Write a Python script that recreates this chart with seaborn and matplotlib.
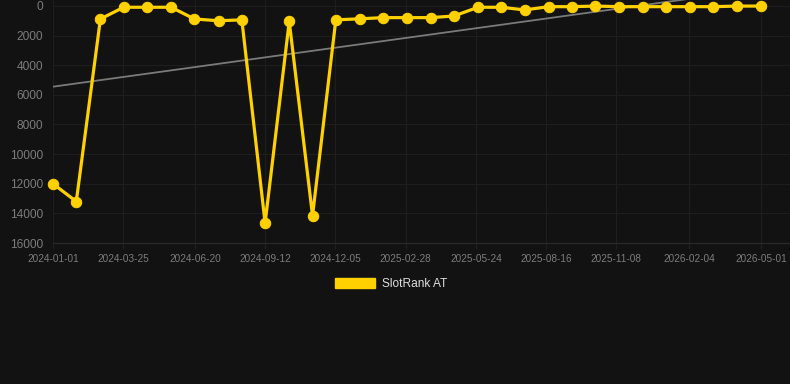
import matplotlib
matplotlib.use('Agg')
import matplotlib.pyplot as plt
import matplotlib.patches as mpatches
import seaborn as sns
import pandas as pd

# ---- data ----
dates = ['2024-01-01', '2024-01-29', '2024-02-27', '2024-03-26', '2024-04-23',
         '2024-05-22', '2024-06-19', '2024-07-18', '2024-08-15', '2024-09-12',
         '2024-10-11', '2024-11-08', '2024-12-06', '2025-01-04', '2025-02-01',
         '2025-03-02', '2025-03-30', '2025-04-27', '2025-05-26', '2025-06-23',
         '2025-07-21', '2025-08-19', '2025-09-16', '2025-10-14', '2025-11-12',
         '2025-12-10', '2026-01-07', '2026-02-05', '2026-03-05', '2026-04-02',
         '2026-05-01']
ranks = [12000, 13200, 880, 90, 90, 90, 880, 1000, 940, 14650,
         1050, 14150, 940, 870, 790, 790, 790, 680, 90, 90,
         270, 50, 50, 10, 50, 50, 50, 50, 50, 10, 10]
trend_dates = ['2024-01-01', '2026-05-01']
trend_values = [5450, -1150]
x_tick_labels = ['2024-01-01', '2024-03-25', '2024-06-20', '2024-09-12', '2024-12-05',
                 '2025-02-28', '2025-05-24', '2025-08-16', '2025-11-08', '2026-02-04',
                 '2026-05-01']
y_ticks = [0, 2000, 4000, 6000, 8000, 10000, 12000, 14000, 16000]
series_label = 'SlotRank AT'

BG = '#121212'
GRID = '#1e1e1e'
GOLD = '#FFD100'
TXT = '#7c7c7c'

sns.set_theme(style='dark', rc={'axes.facecolor': BG, 'figure.facecolor': BG})
plt.rcParams['font.family'] = ['Liberation Sans', 'DejaVu Sans']

df = pd.DataFrame({'date': pd.to_datetime(dates), 'rank': ranks})
tdf = pd.DataFrame({'date': pd.to_datetime(trend_dates), 'rank': trend_values})

fig = plt.figure(figsize=(7.9, 3.84), dpi=100, facecolor=BG)
ax = fig.add_axes([53 / 790, 141 / 384, 737 / 790, 243 / 384])
ax.set_facecolor(BG)

sns.lineplot(data=tdf, x='date', y='rank', ax=ax, color='#7a7a7a', linewidth=1.3,
             legend=False, zorder=2)
sns.lineplot(data=df, x='date', y='rank', ax=ax, color=GOLD, linewidth=2.3,
             marker='o', markersize=7.5, markeredgecolor=GOLD, markerfacecolor=GOLD,
             solid_joinstyle='miter', legend=False, zorder=3, clip_on=False)

ax.set_xlim(pd.Timestamp('2024-01-01'), pd.Timestamp('2024-01-01') + pd.Timedelta(days=886))
ax.set_ylim(16000, -400)

ax.set_xticks(pd.to_datetime(x_tick_labels))
ax.set_xticklabels(x_tick_labels)
ax.set_yticks(y_ticks)
ax.set_yticklabels([str(v) for v in y_ticks])

ax.tick_params(axis='x', colors=GRID, labelcolor=TXT, labelsize=7.2, length=4,
               width=1, pad=4, direction='out', bottom=True)
ax.tick_params(axis='y', labelcolor=TXT, labelsize=8.6, length=0, pad=7, left=False)

ax.grid(True, color=GRID, linewidth=0.8)
ax.set_axisbelow(True)
for s in ['top', 'right', 'left']:
    ax.spines[s].set_visible(False)
ax.spines['bottom'].set_color('#2c2c2c')
ax.spines['bottom'].set_linewidth(0.8)
ax.set_xlabel('')
ax.set_ylabel('')

handle = mpatches.Patch(facecolor=GOLD, edgecolor=GOLD, label=series_label)
fig.legend(handles=[handle], loc='center', bbox_to_anchor=(0.495, 1 - 284 / 384),
           frameon=False, fontsize=8.6, labelcolor='#dddddd',
           handlelength=3.4, handleheight=0.9, handletextpad=0.6)

fig.savefig('out.png', dpi=100, facecolor=BG)
